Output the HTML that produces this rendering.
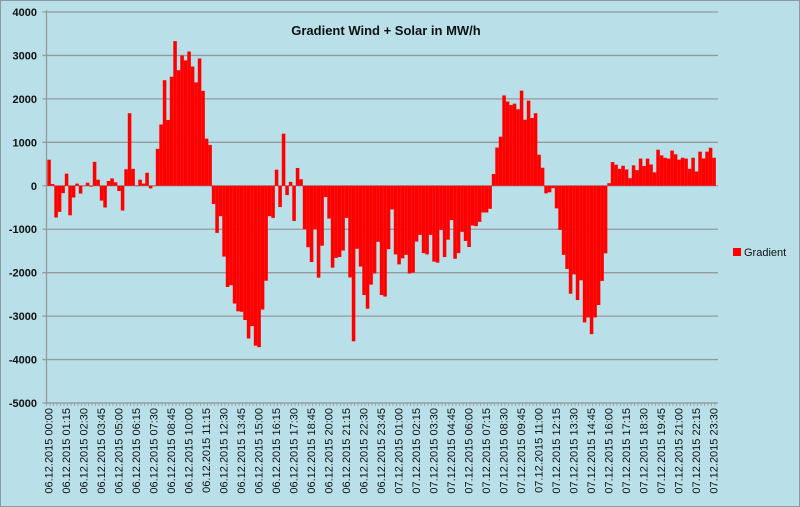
<!DOCTYPE html>
<html><head><meta charset="utf-8"><style>
html,body{margin:0;padding:0;background:#b9dfe8;}
svg{display:block;font-family:"Liberation Sans",sans-serif;}
</style></head><body>
<svg id="chart" width="800" height="507" viewBox="0 0 800 507">
<rect x="0.5" y="0.5" width="799" height="506" fill="#b9dfe8" stroke="#8a9aa0"/>
<text x="386" y="35" text-anchor="middle" font-size="13" font-weight="bold" fill="#111">Gradient Wind + Solar in MW/h</text>
<g id="grid"></g>
<g id="bars"></g>
<g id="axes"></g>
<g>
<rect x="733" y="248" width="8" height="8" fill="#ff0000"/>
<text x="744" y="256" font-size="11" fill="#111">Gradient</text>
</g>
</svg>
<script>
const values = [600,40,-730,-600,-170,280,-680,-270,50,-180,-10,70,-20,550,140,-340,-500,110,170,80,-120,-570,380,1670,390,-10,140,50,300,-60,-10,850,1410,2430,1515,2510,3330,2660,3000,2885,3090,2745,2380,2930,2185,1085,940,-420,-1085,-700,-1630,-2330,-2290,-2710,-2890,-2900,-3090,-3515,-3230,-3680,-3715,-2850,-2185,-700,-740,370,-490,1200,-215,90,-810,410,150,-1000,-1415,-1755,-1000,-2115,-1380,-260,-755,-1885,-1660,-1640,-1490,-740,-2110,-3580,-1450,-1860,-2515,-2830,-2275,-2020,-1290,-2515,-2550,-1460,-545,-1580,-1810,-1670,-1590,-2020,-2000,-1285,-1130,-1550,-1580,-1130,-1745,-1770,-1015,-1640,-1240,-790,-1680,-1550,-1060,-1270,-1410,-915,-930,-830,-615,-615,-530,270,880,1130,2080,1940,1860,1890,1760,2190,1520,1960,1560,1670,715,415,-175,-150,-55,-520,-1015,-1590,-1915,-2485,-2040,-2630,-2175,-3145,-3030,-3415,-3030,-2745,-2190,-1555,60,545,485,390,460,375,175,470,360,625,455,625,490,310,830,700,645,625,810,725,600,645,625,390,645,330,785,630,785,875,645];
const yTicks = [4000,3000,2000,1000,0,-1000,-2000,-3000,-4000,-5000];
const labelEvery = 5;
const NS = "http://www.w3.org/2000/svg";
const X0 = 46.5, X1 = 718, BW = 3.5;
const Y_TOP = 12, Y_BOT = 403, VMAX = 4000, VMIN = -5000;
function y(v){ return Y_TOP + (VMAX - v) * (Y_BOT - Y_TOP) / (VMAX - VMIN); }
function x(i){ return X0 + 0.8 + i * BW; }
function mk(tag, attrs, parent){ const e=document.createElementNS(NS,tag); for(const k in attrs) e.setAttribute(k,attrs[k]); parent.appendChild(e); return e; }
const grid=document.getElementById('grid'), barsG=document.getElementById('bars'), axes=document.getElementById('axes');
function pad(n){return (n<10?'0':'')+n;}
yTicks.forEach(t=>{
  const l=mk('line',{x1:X0-4,x2:X1,y1:y(t),y2:y(t),stroke:'#959a9c','stroke-width':1.3},grid);
  
  
  const tx=mk('text',{x:37,y:y(t)+4,'text-anchor':'end','font-size':11,'font-weight':'bold',fill:'#111'},axes);
  tx.textContent=String(t);
  
  
});
values.forEach((v,i)=>{
  const y0=y(0), yv=y(v);
  const r=mk('rect',{x:x(i),y:Math.min(y0,yv),width:BW+0.05,height:Math.abs(yv-y0),fill:'#ff0000'},barsG);
  
  
});
const ya=mk('line',{x1:X0,x2:X0,y1:Y_TOP-2,y2:Y_BOT,stroke:'#959a9c','stroke-width':1.3},axes);


const xa=mk('line',{x1:X0,x2:X1,y1:Y_BOT,y2:Y_BOT,stroke:'#959a9c','stroke-width':1.3},axes);


for(let i=0;i<=values.length;i++){
  const t=mk('line',{x1:x(i)-0.8,x2:x(i)-0.8,y1:Y_BOT,y2:Y_BOT+3,stroke:'#959a9c','stroke-width':0.8},axes);
  
  
}
for(let i=0;i<values.length;i+=labelEvery){
  const day=i<96?'06':'07', m=(i%96)*15;
  const s=day+'.12.2015 '+pad(Math.floor(m/60))+':'+pad(m%60);
  const cx=x(i)+BW/2+3.5;
  const tx=mk('text',{x:0,y:0,'text-anchor':'end','font-size':11,fill:'#111',transform:'translate('+cx+',408) rotate(-90)'},axes);
  tx.textContent=s;
  
  
}
</script>
</body></html>
